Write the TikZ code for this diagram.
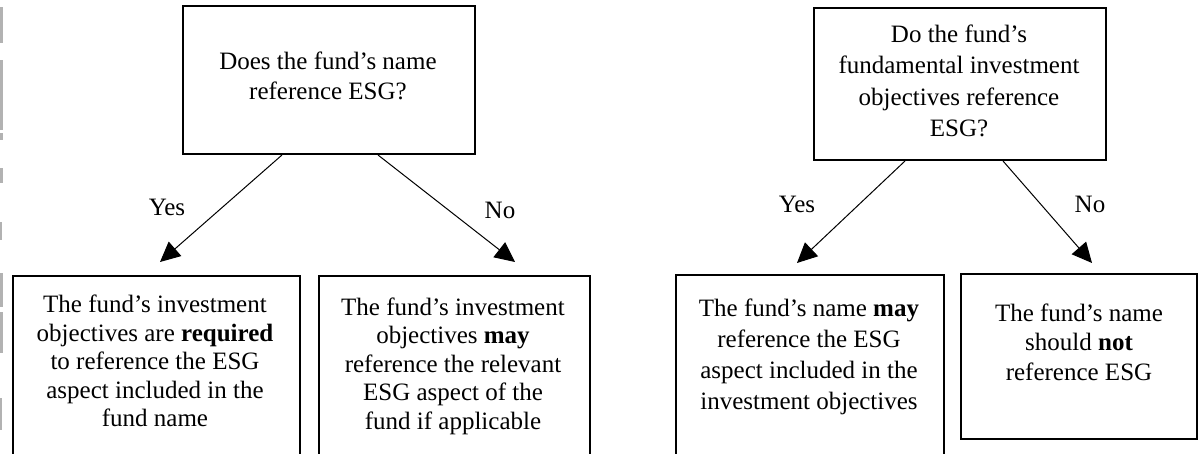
\documentclass[tikz,border=0pt]{standalone}
\usepackage{fontspec}
\setmainfont{Liberation Serif}
\usetikzlibrary{arrows.meta}
\begin{document}
\begin{tikzpicture}[x=1pt,y=-1pt,
  box/.style={draw, line width=2pt, inner sep=0pt, anchor=north west},
  txt/.style={align=center, inner sep=0pt, font=\fontsize{25}{30}\selectfont},
  conn/.style={line width=1pt, -{Triangle[length=20pt,width=19pt]}},
  lbl/.style={inner sep=0pt, font=\fontsize{25}{30}\selectfont},
  edge/.style={fill=black!30, draw=none}]
\useasboundingbox (0,0) rectangle (1198,454);
% faint fragments at the left edge
\fill[edge] (0,7) rectangle (3,43);
\fill[edge] (0,60) rectangle (3,130);
\fill[edge] (0,133) rectangle (3,140);
\fill[edge] (0,168) rectangle (3,183);
\fill[edge] (0,222) rectangle (2,240);
\fill[edge] (0,273) rectangle (3,307);
\fill[edge] (0,312) rectangle (3,353);
\fill[edge] (0,398) rectangle (2,430);
% boxes
\node[box, minimum width=292pt, minimum height=148pt] (q1) at (182,5) {};
\node[box, minimum width=292pt, minimum height=152pt] (q2) at (813,7) {};
\node[box, minimum width=287pt, minimum height=200pt] (b1) at (12,275) {};
\node[box, minimum width=271pt, minimum height=200pt] (b2) at (318,275) {};
\node[box, minimum width=268pt, minimum height=200pt] (b3) at (675,274) {};
\node[box, minimum width=236pt, minimum height=165pt] (b4) at (960,273) {};
% texts
\node[txt] (q1t) at (328,76) {Does the fund’s name\\reference ESG?};
\node[txt, font=\fontsize{25}{31.5}\selectfont] (q2t) at (959,81) {Do the fund’s\\fundamental investment\\objectives reference\\ESG?};
\node[txt, font=\fontsize{25}{28.5}\selectfont] (b1t) at (155,361) {The fund’s investment\\objectives are \textbf{required}\\to reference the ESG\\aspect included in the\\fund name};
\node[txt, font=\fontsize{25}{28.5}\selectfont] (b2t) at (453,366) {The fund’s investment\\objectives \textbf{may}\\reference the relevant\\ESG aspect of the\\fund if applicable};
\node[txt, font=\fontsize{25}{31}\selectfont] (b3t) at (809,357) {The fund’s name \textbf{may}\\reference the ESG\\aspect included in the\\investment objectives};
\node[txt, font=\fontsize{25}{29.5}\selectfont] (b4t) at (1079,342) {The fund’s name\\should \textbf{not}\\reference ESG};
% arrow tips
\coordinate (t1) at (160,262);
\coordinate (t2) at (515,262);
\coordinate (t3) at (797,263);
\coordinate (t4) at (1092,263);
\draw[conn] ([xshift=-47pt]q1.south) -- (t1);
\draw[conn] ([xshift=49pt]q1.south) -- (t2);
\draw[conn] ([xshift=-55pt]q2.south) -- (t3);
\draw[conn] ([xshift=43pt]q2.south) -- (t4);
% labels
\node[lbl] (y1) at (167,207) {Yes};
\node[lbl] (n1) at (500,210) {No};
\node[lbl] (y2) at (797,204) {Yes};
\node[lbl] (n2) at (1090,204) {No};
\end{tikzpicture}
\end{document}
